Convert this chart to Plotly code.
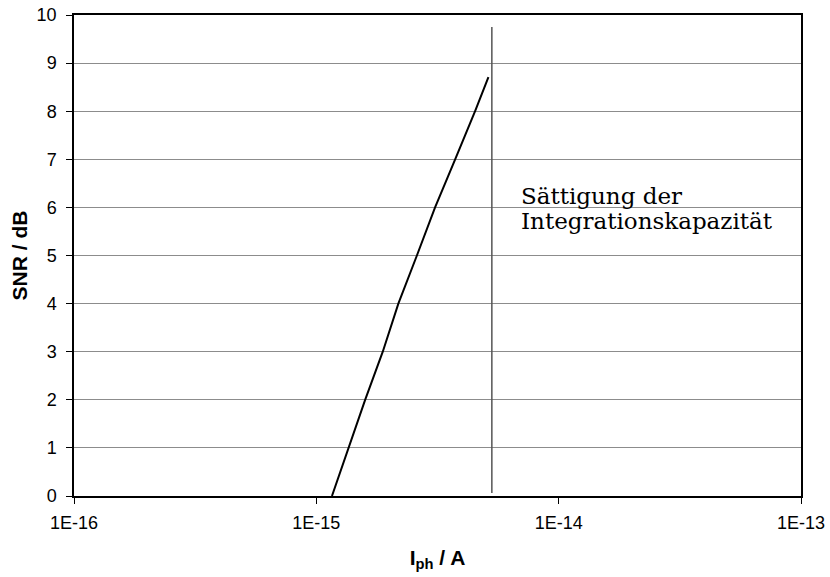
import numpy as np
import plotly.graph_objects as go

# Photocurrent (A) and resulting signal-to-noise ratio (dB)
i_ph = [1.16e-15, 1.355e-15, 1.59e-15, 1.88e-15, 2.18e-15, 2.60e-15,
        3.09e-15, 3.74e-15, 4.52e-15, 5.13e-15]
snr_db = [0.0, 1.0, 2.0, 3.0, 4.0, 5.0, 6.0, 7.0, 8.0, 8.71]

# Saturation limit of the integration capacitor
sat_current = [5.3e-15, 5.3e-15]
sat_snr = [0.06, 9.75]

x_tickvals = [1e-16, 1e-15, 1e-14, 1e-13]
x_ticktext = ["1E-16", "1E-15", "1E-14", "1E-13"]
y_tickvals = list(range(0, 11))

fig = go.Figure()
fig.add_trace(go.Scatter(x=sat_current, y=sat_snr, mode="lines",
                         line=dict(color="#555555", width=1.5),
                         showlegend=False, hoverinfo="skip"))
fig.add_trace(go.Scatter(x=i_ph, y=snr_db, mode="lines",
                         line=dict(color="black", width=2),
                         showlegend=False))

label_font = dict(family="DejaVu Serif", size=23, color="black")
fig.add_annotation(x=np.log10(6.85e-15), y=5.92, xref="x", yref="y",
                   text="Sättigung der", showarrow=False,
                   xanchor="left", yanchor="bottom", font=label_font)
fig.add_annotation(x=np.log10(6.85e-15), y=5.40, xref="x", yref="y",
                   text="Integrationskapazität", showarrow=False,
                   xanchor="left", yanchor="bottom", font=label_font)

axis_font = dict(family="Liberation Sans, Arial", size=18, color="black")
title_font = dict(family="Liberation Sans, Arial", size=21, color="black")

fig.update_xaxes(type="log", range=[-16, -13],
                 tickvals=x_tickvals, ticktext=x_ticktext,
                 ticks="outside", ticklen=6, tickcolor="black",
                 ticklabelstandoff=4, automargin=False,
                 showline=True, linecolor="black", linewidth=1.5, mirror=True,
                 showgrid=False, zeroline=False, tickfont=axis_font,
                 title=dict(text="<b>I<sub>ph</sub> / A</b>", font=title_font,
                            standoff=18))
fig.update_yaxes(range=[0, 10], tickvals=y_tickvals,
                 ticks="outside", ticklen=6, tickcolor="black",
                 ticklabelstandoff=6, automargin=False,
                 showline=True, linecolor="black", linewidth=1.5, mirror=True,
                 showgrid=True, gridcolor="#8c8c8c", gridwidth=1,
                 zeroline=False, tickfont=axis_font,
                 title=dict(text="<b>SNR / dB</b>", font=title_font,
                            standoff=3))

fig.update_layout(width=830, height=577,
                  margin=dict(l=74, r=29, t=15, b=81),
                  paper_bgcolor="white", plot_bgcolor="white")

fig.write_html("out.html")
